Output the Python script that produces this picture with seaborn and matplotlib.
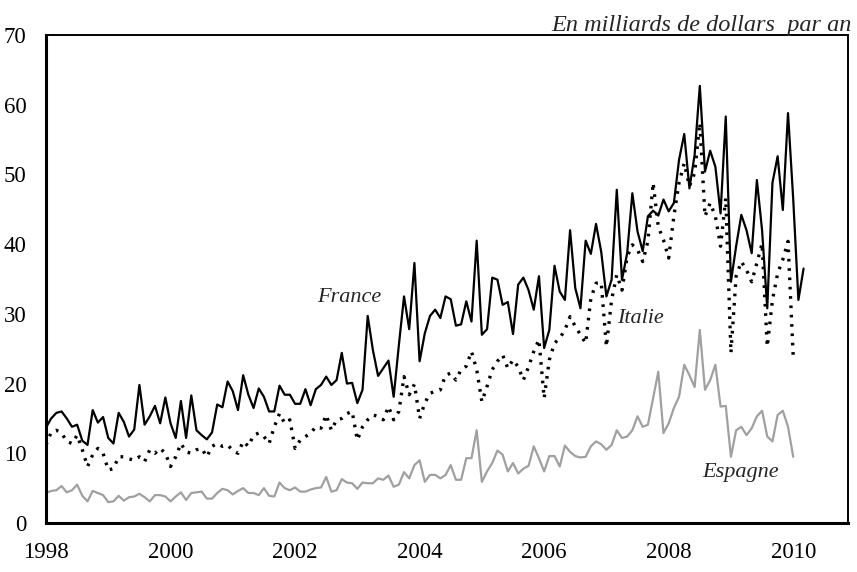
import numpy as np
import pandas as pd
import matplotlib
matplotlib.use("Agg")
import matplotlib.pyplot as plt
import seaborn as sns

# monthly values, billions of dollars per year
france = [
    13.7, 15.0, 15.8, 16.0, 15.0, 13.8, 14.1, 11.8, 11.2, 16.2, 14.4, 15.2,  # 1998
    12.2, 11.4, 15.8, 14.5, 12.4, 13.4, 19.8, 14.1, 15.3, 16.8, 14.3, 18.0,  # 1999
    14.3, 12.2, 17.5, 12.2, 18.3, 13.3, 12.6, 12.0, 13.0, 17.0, 16.6, 20.3,  # 2000
    18.9, 16.2, 21.2, 18.4, 16.5, 19.3, 18.1, 16.0, 16.0, 19.7, 18.4, 18.4,  # 2001
    17.1, 17.1, 19.2, 16.9, 19.2, 19.8, 21.0, 19.8, 20.5, 24.4, 20.0, 20.1,  # 2002
    17.2, 19.1, 29.7, 24.8, 21.1, 22.2, 23.3, 18.1, 25.5, 32.5, 27.8, 37.3,  # 2003
    23.2, 27.2, 29.7, 30.6, 29.4, 32.5, 32.1, 28.3, 28.5, 31.8, 28.9, 40.5,  # 2004
    27.0, 27.8, 35.2, 34.9, 31.3, 31.7, 27.1, 34.2, 35.2, 33.4, 30.6, 35.4,  # 2005
    25.1, 27.7, 36.9, 33.2, 32.0, 42.0, 33.7, 30.8, 40.5, 38.6, 42.9, 38.9,  # 2006
    32.5, 34.9, 47.8, 34.9, 38.7, 47.3, 41.8, 39.0, 44.0, 44.8, 44.1, 46.4,  # 2007
    44.7, 45.9, 52.1, 55.8, 48.0, 52.8, 62.7, 50.4, 53.4, 51.1, 44.4, 58.3,  # 2008
    34.6, 39.7, 44.2, 42.0, 38.7, 49.2, 42.0, 30.8, 48.8, 52.6, 44.9, 58.8,  # 2009
    46.5, 32.0, 36.5,                                                        # 2010
]
italie = [
    11.2, 13.0, 13.3, 12.9, 11.7, 11.4, 12.6, 10.5, 8.1, 9.8, 10.7, 10.0,
    7.6, 7.8, 9.5, 9.5, 9.2, 9.0, 9.5, 8.8, 10.5, 10.0, 10.7, 10.0,
    8.1, 9.5, 11.4, 10.2, 10.0, 10.5, 10.7, 9.5, 11.0, 11.4, 11.0, 11.2,
    10.4, 10.0, 11.7, 11.0, 12.6, 12.9, 12.4, 11.4, 13.8, 15.7, 14.3, 14.8,
    10.7, 11.9, 12.4, 12.9, 13.8, 13.6, 15.5, 13.3, 14.8, 15.0, 15.7, 16.0,
    11.9, 13.8, 14.8, 15.5, 15.3, 14.8, 16.7, 14.8, 16.0, 21.0, 18.4, 19.9,
    15.0, 17.2, 18.6, 18.9, 19.1, 21.2, 21.5, 20.5, 22.0, 22.5, 24.6, 22.0,
    17.4, 19.6, 22.0, 23.2, 24.1, 22.2, 23.4, 22.4, 20.5, 22.4, 24.6, 26.3,
    17.9, 23.4, 25.8, 26.5, 27.7, 29.6, 28.2, 27.0, 25.8, 32.2, 34.4, 34.5,
    25.3, 32.0, 35.6, 33.4, 38.2, 39.9, 39.2, 37.5, 40.4, 48.8, 42.5, 40.6,
    38.0, 44.0, 48.8, 51.6, 48.3, 50.2, 57.4, 44.0, 45.9, 44.0, 39.7, 46.6,
    24.4, 35.4, 37.5, 36.3, 34.6, 37.3, 40.1, 25.3, 32.0, 35.8, 37.8, 40.4,
    23.9,
]
espagne = [
    4.3, 4.6, 4.7, 5.3, 4.4, 4.7, 5.5, 3.9, 3.1, 4.6, 4.3, 4.0,
    3.0, 3.1, 3.9, 3.2, 3.7, 3.8, 4.2, 3.7, 3.1, 4.0, 4.0, 3.8,
    3.1, 3.8, 4.4, 3.3, 4.3, 4.4, 4.5, 3.5, 3.5, 4.3, 4.9, 4.7,
    4.1, 4.6, 5.0, 4.3, 4.3, 4.0, 5.0, 3.9, 3.8, 5.8, 5.0, 4.7,
    5.1, 4.5, 4.5, 4.8, 5.0, 5.1, 6.6, 4.5, 4.7, 6.3, 5.8, 5.7,
    4.9, 5.8, 5.7, 5.7, 6.4, 6.2, 6.8, 5.2, 5.5, 7.3, 6.4, 8.3,
    9.0, 5.9, 6.9, 6.9, 6.4, 6.9, 8.3, 6.2, 6.2, 9.3, 9.3, 13.3,
    5.9, 7.4, 8.6, 10.4, 9.8, 7.4, 8.6, 7.1, 7.8, 8.2, 11.0, 9.3,
    7.4, 9.6, 9.6, 8.1, 11.1, 10.2, 9.6, 9.4, 9.5, 11.0, 11.7, 11.3,
    10.5, 11.2, 13.3, 12.2, 12.4, 13.3, 15.3, 13.8, 14.1, 17.9, 21.7, 12.9,
    14.3, 16.5, 18.1, 22.7, 21.2, 19.5, 27.7, 19.1, 20.5, 22.7, 16.7, 16.8,
    9.5, 13.3, 13.8, 12.6, 13.6, 15.3, 16.1, 12.4, 11.7, 15.5, 16.1, 13.8,
    9.5,
]
year_ticks = [1998, 2000, 2002, 2004, 2006, 2008, 2010]
title = "En milliards de dollars  par an"


def to_frame(values, name):
    dates = pd.date_range("1998-01-01", periods=len(values), freq="MS")
    return pd.DataFrame({"annee": dates.year + (dates.month - 1) / 12,
                         "valeur": values, "pays": name})


sns.set_theme(style="white")
plt.rcParams["font.family"] = ["Liberation Serif", "DejaVu Serif"]

fig = plt.figure(figsize=(8.57, 5.72), dpi=100)
ax = fig.add_axes([46 / 857, 1 - 523 / 572, (848 - 46) / 857, (523 - 35) / 572])

sns.lineplot(data=to_frame(espagne, "Espagne"), x="annee", y="valeur",
             color="#a0a0a0", linewidth=1.6, ax=ax)
sns.lineplot(data=to_frame(italie, "Italie"), x="annee", y="valeur",
             color="black", linewidth=2.4, ax=ax)
ax.lines[-1].set_dashes((0.8, 2.0))
sns.lineplot(data=to_frame(france, "France"), x="annee", y="valeur",
             color="black", linewidth=1.6, ax=ax)

ax.set_xlim(1998, 2010.88)
ax.set_ylim(0, 70)
ax.set_xticks(year_ticks)
ax.set_yticks(range(0, 71, 10))
ax.set_xlabel("")
ax.set_ylabel("")
ax.tick_params(axis="both", direction="in", length=6, width=1.6,
               colors="black", labelsize=16.5)
ax.tick_params(axis="y", pad=14)
ax.tick_params(axis="x", pad=14)
ax.grid(False)

for side in ["left", "bottom"]:
    ax.spines[side].set_linewidth(2.2)
for side in ["top", "right"]:
    ax.spines[side].set_linewidth(1.4)
for sp in ax.spines.values():
    sp.set_color("black")

lab = dict(fontsize=16, style="italic", ha="center", va="center")
ax.text(2002.87, 32.4, "France", **lab)
ax.text(2007.55, 29.4, "Italie", **lab)
ax.text(2009.15, 7.2, "Espagne", **lab)
fig.text(852 / 857, 1 - 25 / 572, title, fontsize=17.5, style="italic",
         ha="right", va="center")

fig.savefig("out.png", dpi=100)
